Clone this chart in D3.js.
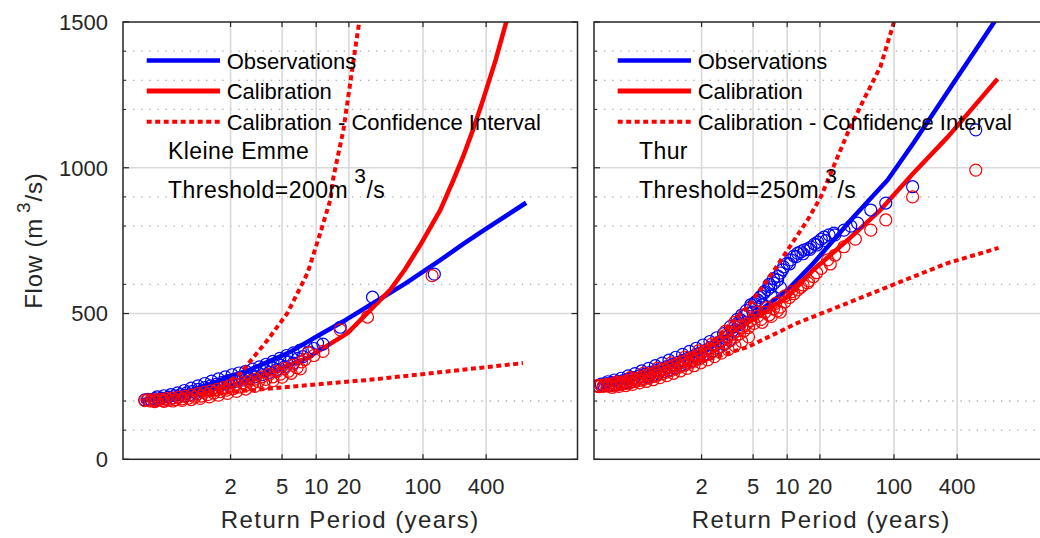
<!DOCTYPE html>
<html><head><meta charset="utf-8">
<script src="https://cdn.jsdelivr.net/npm/d3@7"></script>
<style>
body{margin:0;background:#fff}
svg{display:block}
text{font-family:"Liberation Sans",Arial,Helvetica,sans-serif}
</style>
</head><body>
<svg id="c" width="1040" height="538"></svg>
<script>
// Axis: x is the Gumbel reduced variate u = -ln(-ln(1-1/T)); labels are return periods T
const returnPeriodTicks = [2, 5, 10, 20, 100, 400];
const flowTicks = [0, 500, 1000, 1500];
const flowMinorTicks = [100, 200, 600, 800, 900, 1200, 1300, 1400];
const legendLabels = ["Observations", "Calibration", "Calibration - Confidence Interval"];
const stationNames = ["Kleine Emme", "Thur"];
const thresholds = [200, 250];

// ---- Kleine Emme: [reduced variate u, flow m3/s]
const keObsCurve = [[-1.61,203],[-1.0,215],[-0.5,235],[0.0,262],[0.37,285],[0.8,308],[1.2,335],[1.7,370],[2.28,423],[2.9,478],[3.51,536],[4.2,602],[4.98,683],[5.48,738],[5.9,782],[6.87,880]];
const keCalCurve = [[-1.61,200],[-0.58,221],[0.37,252],[1.18,296],[2.06,348],[2.94,433],[3.38,502],[3.88,581],[4.2,650],[4.54,735],[4.98,855],[5.27,958],[5.48,1037],[5.70,1130],[5.92,1232],[6.2,1370],[6.45,1510]];
const keCIUpper = [[-0.3,222],[0.04,235],[0.59,296],[1.18,409],[1.62,502],[2.06,639],[2.34,776],[2.56,889],[2.63,968],[2.85,1130],[3.0,1291],[3.16,1462],[3.22,1520]];
const keCILower = [[-0.3,218],[0.65,235],[1.9,252],[3.38,272],[4.83,296],[6.80,330]];
const keObsPoints = [[-1.52,204],[-1.45,206],[-1.38,203],[-1.3,208],[-1.22,205],[-1.15,210],[-1.08,207],[-1.0,213],[-0.93,210],[-0.86,218],[-0.8,214],[-0.73,222],[-0.66,218],[-0.6,228],[-0.53,222],[-0.47,233],[-0.4,228],[-0.34,240],[-0.27,234],[-0.2,246],[-0.14,240],[-0.07,252],[0.0,246],[0.06,258],[0.12,252],[0.19,264],[0.25,258],[0.31,270],[0.37,263],[0.44,274],[0.5,268],[0.56,278],[0.63,272],[0.7,283],[0.77,277],[0.84,289],[0.91,283],[0.98,296],[1.06,290],[1.14,304],[1.22,298],[1.3,313],[1.38,307],[1.47,322],[1.56,318],[1.65,334],[1.75,330],[1.85,346],[1.96,352],[2.08,368],[2.2,380],[2.28,398],[2.4,395],[2.78,453],[3.49,556],[4.85,635],
  [-1.25,214],[-1.1,218],[-0.95,222],[-0.8,228],[-0.65,236],[-0.5,244],[-0.35,252],[-0.2,260],[-0.05,268],[0.1,276],[0.25,283],[0.4,290],[0.55,296],[0.7,302],[0.85,309],[1.0,317],[1.15,326],[1.3,336],[1.45,346],[1.6,356],[1.75,365],[1.9,375]];
const keCalPoints = [[-1.52,201],[-1.46,204],[-1.4,200],[-1.33,205],[-1.26,201],[-1.19,206],[-1.12,202],[-1.05,208],[-0.98,203],[-0.91,210],[-0.84,205],[-0.77,213],[-0.7,207],[-0.63,216],[-0.56,210],[-0.49,220],[-0.42,213],[-0.35,225],[-0.28,217],[-0.21,230],[-0.14,222],[-0.07,235],[0.0,227],[0.07,240],[0.14,232],[0.21,246],[0.28,237],[0.35,252],[0.42,242],[0.49,257],[0.56,248],[0.63,262],[0.7,254],[0.77,268],[0.84,260],[0.91,275],[0.98,266],[1.06,283],[1.14,274],[1.22,292],[1.3,283],[1.38,301],[1.46,292],[1.55,311],[1.64,302],[1.73,322],[1.83,314],[1.93,334],[2.0,342],[2.08,365],[2.2,356],[2.4,370],[2.78,444],[3.38,488],[4.8,630],
  [-1.3,198],[-1.1,199],[-0.9,200],[-0.7,202],[-0.5,205],[-0.3,209],[-0.1,214],[0.1,220],[0.3,226],[0.5,233],[0.7,241],[0.9,250],[1.1,260],[1.3,270],[1.5,282],[1.7,295],[1.9,310]];

// ---- Thur
const thObsCurve = [[-1.84,252],[-1.3,270],[-0.81,296],[-0.3,325],[0.1,350],[0.5,375],[0.9,420],[1.38,478],[1.82,530],[2.26,581],[2.83,673],[3.71,831],[4.46,958],[5.03,1085],[5.91,1291],[6.85,1510]];
const thCalCurve = [[-1.84,248],[-1.19,272],[-0.46,317],[0.29,365],[0.79,409],[1.38,468],[2.26,557],[2.83,650],[3.58,752],[4.30,855],[5.03,982],[5.78,1105],[6.88,1305]];
const thCIUpper = [[0.0,345],[0.13,355],[0.5,385],[0.94,454],[1.38,523],[1.82,615],[2.26,718],[2.70,821],[2.99,900],[3.58,1119],[3.93,1232],[4.30,1346],[4.62,1510]];
const thCILower = [[0.0,320],[0.35,334],[1.38,385],[2.48,468],[3.58,536],[4.68,605],[5.78,673],[6.90,725]];
const thObsPoints = [[-1.9,252],[-1.84,258],[-1.78,253],[-1.72,260],[-1.66,255],[-1.6,263],[-1.54,257],[-1.48,266],[-1.42,260],[-1.36,270],[-1.3,263],[-1.24,275],[-1.18,267],[-1.12,280],[-1.06,272],[-1.0,286],[-0.94,277],[-0.88,292],[-0.82,283],[-0.76,298],[-0.7,289],[-0.64,304],[-0.58,295],[-0.52,311],[-0.46,301],[-0.4,318],[-0.34,308],[-0.28,325],[-0.22,315],[-0.16,332],[-0.1,322],[-0.04,339],[0.02,329],[0.08,347],[0.14,337],[0.2,355],[0.26,345],[0.32,364],[0.38,353],[0.44,373],[0.5,362],[0.56,383],[0.62,372],[0.68,394],[0.74,383],[0.8,406],[0.86,395],[0.92,420],[0.98,409],[1.04,440],[1.1,455],[1.17,468],[1.2,462],[1.23,478],[1.3,492],[1.38,501],[1.45,522],[1.5,505],[1.53,535],[1.61,546],[1.68,560],[1.7,530],[1.74,570],[1.82,582],[1.89,591],[1.9,560],[1.96,604],[2.04,615],[2.1,590],[2.10,639],[2.17,660],[2.25,672],[2.33,684],[2.4,697],[2.48,707],[2.55,712],[2.62,718],[2.7,722],[2.77,728],[2.85,738],[2.92,745],[3.0,755],[3.06,762],[3.17,770],[3.28,776],[3.5,786],[3.65,800],[3.8,810],[4.09,855],[4.42,879],[5.01,935],[6.40,1130],
  [-1.7,266],[-1.55,272],[-1.4,278],[-1.25,286],[-1.1,294],[-0.95,303],[-0.8,312],[-0.65,321],[-0.5,330],[-0.35,340],[-0.2,350],[-0.05,360],[0.1,370],[0.25,381],[0.4,392],[0.55,404],[0.7,417],[0.85,431],
  [1.0,455],[1.15,480],[1.25,495],[1.35,510],[1.45,530],[1.55,540],[1.65,555],[1.75,575],[1.85,600],[1.95,620],[2.05,628],[2.15,650],[2.3,670],[2.45,695],[2.6,705],[2.75,720],[2.9,735],[3.1,750],[3.3,770]];
const thCalPoints = [[-1.95,252],[-1.9,249],[-1.85,254],[-1.8,250],[-1.75,256],[-1.7,251],[-1.65,258],[-1.6,253],[-1.55,260],[-1.5,255],[-1.45,263],[-1.4,257],[-1.35,266],[-1.3,260],[-1.25,270],[-1.2,263],[-1.15,274],[-1.1,267],[-1.05,278],[-1.0,271],[-0.95,283],[-0.9,275],[-0.85,288],[-0.8,279],[-0.75,293],[-0.7,284],[-0.65,298],[-0.6,289],[-0.55,303],[-0.5,294],[-0.45,309],[-0.4,299],[-0.35,315],[-0.3,305],[-0.25,321],[-0.2,311],[-0.15,327],[-0.1,317],[-0.05,334],[0.0,323],[0.05,341],[0.1,330],[0.15,348],[0.2,337],[0.25,355],[0.3,344],[0.35,363],[0.4,352],[0.45,371],[0.5,360],[0.55,380],[0.6,369],[0.65,390],[0.7,378],[0.75,400],[0.8,387],[0.85,410],[0.9,440],[0.9,397],[0.95,420],[1.0,407],[1.05,430],[1.1,470],[1.1,418],[1.15,441],[1.2,430],[1.25,452],[1.3,495],[1.3,441],[1.35,464],[1.4,452],[1.45,476],[1.5,515],[1.52,466],[1.6,490],[1.68,480],[1.76,504],[1.85,495],[1.95,516],[2.03,509],[2.10,522],[2.2,540],[2.3,555],[2.4,568],[2.48,581],[2.6,598],[2.72,612],[2.83,626],[3.0,655],[3.14,684],[3.3,700],[3.5,729],[3.75,755],[4.09,786],[4.42,821],[5.01,900],[6.40,992],
  [-1.6,247],[-1.45,250],[-1.3,253],[-1.15,257],[-1.0,262],[-0.85,267],[-0.7,273],[-0.55,280],[-0.4,287],[-0.25,295],[-0.1,303],[0.05,312],[0.2,321],[0.35,331],[0.5,341],[0.65,352],[0.8,364],[0.95,376],[1.1,390],[1.25,404],[1.4,420],
  [-1.5,266],[-1.2,280],[-0.9,296],[-0.6,313],[-0.3,331],[0.0,350],[0.3,372],[0.6,396],[0.9,425],[1.2,456],
  [1.6,505],[1.7,470],[1.8,520],[1.9,490],[2.0,535],[2.1,505],[2.2,560],[2.35,575],[2.55,590],[2.7,605],[2.9,640],[3.2,670]];

const BLUE = "#0000ff", RED = "#ff0000", AX = "#262626";
const svg = d3.select("#c");
const y = d3.scaleLinear().domain([0, 1500]).range([459.3, 22]);
const gumbel = T => -Math.log(-Math.log(1 - 1 / T));

function drawPanel(idx, x0, x1, obsCurve, calCurve, ciUp, ciLow, obsPts, calPts, showY) {
  const x = d3.scaleLinear().domain([-2, 8]).range([x0, x1]);
  const yTop = y(1500), yBot = y(0);
  const cid = "clip" + idx;
  svg.append("clipPath").attr("id", cid).append("rect")
    .attr("x", x0).attr("y", yTop).attr("width", x1 - x0).attr("height", yBot - yTop);
  const g = svg.append("g");

  g.selectAll("line.minor").data(flowMinorTicks).join("line").attr("class", "minor")
    .attr("x1", x0 + 2).attr("x2", x1).attr("y1", d => y(d)).attr("y2", d => y(d))
    .attr("stroke", "#aaaaaa").attr("stroke-width", 1.3).attr("stroke-dasharray", "1.3,6.8");
  g.selectAll("line.hmaj").data(flowTicks.slice(1, -1)).join("line").attr("class", "hmaj")
    .attr("x1", x0).attr("x2", x1).attr("y1", d => y(d)).attr("y2", d => y(d))
    .attr("stroke", "#d9d9d9").attr("stroke-width", 1.6);
  g.selectAll("line.vmaj").data(returnPeriodTicks).join("line").attr("class", "vmaj")
    .attr("x1", d => x(gumbel(d))).attr("x2", d => x(gumbel(d))).attr("y1", yTop).attr("y2", yBot)
    .attr("stroke", "#d9d9d9").attr("stroke-width", 1.6);

  const plot = g.append("g").attr("clip-path", `url(#${cid})`);
  const line = d3.line().x(d => x(d[0])).y(d => y(d[1]));
  plot.append("path").attr("d", line(obsCurve)).attr("fill", "none").attr("stroke", BLUE).attr("stroke-width", 4.5).attr("stroke-linejoin", "round");
  plot.append("path").attr("d", line(calCurve)).attr("fill", "none").attr("stroke", RED).attr("stroke-width", 4.5).attr("stroke-linejoin", "round");
  plot.selectAll("circle.o").data(obsPts).join("circle").attr("class", "o")
    .attr("cx", d => x(d[0])).attr("cy", d => y(d[1])).attr("r", 6)
    .attr("fill", "none").attr("stroke", BLUE).attr("stroke-width", 1.2);
  plot.selectAll("circle.c").data(calPts).join("circle").attr("class", "c")
    .attr("cx", d => x(d[0])).attr("cy", d => y(d[1])).attr("r", 6)
    .attr("fill", "none").attr("stroke", RED).attr("stroke-width", 1.2);
  [ciUp, ciLow].forEach(c => plot.append("path").attr("d", line(c)).attr("fill", "none")
    .attr("stroke", RED).attr("stroke-width", 4).attr("stroke-dasharray", "5,3.5"));

  g.append("rect").attr("x", x0).attr("y", yTop).attr("width", x1 - x0).attr("height", yBot - yTop)
    .attr("fill", "none").attr("stroke", AX).attr("stroke-width", 1.5);
  returnPeriodTicks.forEach(T => {
    const px = x(gumbel(T));
    g.append("line").attr("x1", px).attr("x2", px).attr("y1", yBot).attr("y2", yBot - 5).attr("stroke", AX).attr("stroke-width", 1.2);
    g.append("line").attr("x1", px).attr("x2", px).attr("y1", yTop).attr("y2", yTop + 5).attr("stroke", AX).attr("stroke-width", 1.2);
  });
  g.selectAll("text.xt").data(returnPeriodTicks).join("text").attr("class", "xt")
    .attr("x", d => x(gumbel(d))).attr("y", 494).attr("text-anchor", "middle")
    .attr("font-size", 22).attr("fill", AX).text(d => d);
  flowTicks.forEach(v => {
    g.append("line").attr("x1", x0).attr("x2", x0 + 6).attr("y1", y(v)).attr("y2", y(v)).attr("stroke", AX).attr("stroke-width", 1.2);
    g.append("line").attr("x1", x1).attr("x2", x1 - 6).attr("y1", y(v)).attr("y2", y(v)).attr("stroke", AX).attr("stroke-width", 1.2);
  });
  flowMinorTicks.forEach(v => {
    g.append("line").attr("x1", x0).attr("x2", x0 + 3).attr("y1", y(v)).attr("y2", y(v)).attr("stroke", AX).attr("stroke-width", 1);
  });
  if (showY) {
    g.selectAll("text.yt").data(flowTicks).join("text").attr("class", "yt")
      .attr("x", x0 - 15).attr("y", d => y(d)).attr("dy", "0.36em").attr("text-anchor", "end")
      .attr("font-size", 22).attr("fill", AX).text(d => d);
    const yl = g.append("text").attr("transform", `translate(42,${(yTop + yBot) / 2}) rotate(-90)`)
      .attr("text-anchor", "middle").attr("font-size", 24).attr("letter-spacing", 0.8).attr("fill", AX);
    yl.append("tspan").text("Flow (m");
    yl.append("tspan").attr("dx", 5).attr("dy", -12).attr("font-size", 19).text("3");
    yl.append("tspan").attr("dy", 12).text("/s)");
  }
  g.append("text").attr("x", (x0 + x1) / 2).attr("y", 528).attr("text-anchor", "middle")
    .attr("font-size", 24).attr("letter-spacing", 1.4).attr("fill", AX).text("Return Period (years)");

  const ly = [60.5, 91, 121.7];
  const lstyle = [
    {c: BLUE, w: 4.5, dash: null},
    {c: RED, w: 5, dash: null},
    {c: RED, w: 4, dash: "5,3.5"}
  ];
  legendLabels.forEach((lab, i) => {
    const ln = g.append("line").attr("x1", x0 + 23.7).attr("x2", x0 + 97).attr("y1", ly[i]).attr("y2", ly[i])
      .attr("stroke", lstyle[i].c).attr("stroke-width", lstyle[i].w);
    if (lstyle[i].dash) ln.attr("stroke-dasharray", lstyle[i].dash);
    g.append("text").attr("x", x0 + 103.7).attr("y", ly[i] + 8.3).attr("font-size", 22).attr("fill", "#000").text(lab);
  });
  g.append("text").attr("x", x0 + 45).attr("y", 159).attr("font-size", 23).attr("letter-spacing", 0.4).attr("fill", "#000").text(stationNames[idx]);
  const th = g.append("text").attr("x", x0 + 45).attr("y", 197.5).attr("font-size", 23).attr("letter-spacing", 0.5).attr("fill", "#000");
  th.append("tspan").text(`Threshold=${thresholds[idx]}m`);
  th.append("tspan").attr("dx", 6).attr("dy", -15).attr("font-size", 21).text("3");
  th.append("tspan").attr("dy", 15).text("/s");
}

drawPanel(0, 123, 577.5, keObsCurve, keCalCurve, keCIUpper, keCILower, keObsPoints, keCalPoints, true);
drawPanel(1, 594, 1048.5, thObsCurve, thCalCurve, thCIUpper, thCILower, thObsPoints, thCalPoints, false);
</script>
</body></html>
